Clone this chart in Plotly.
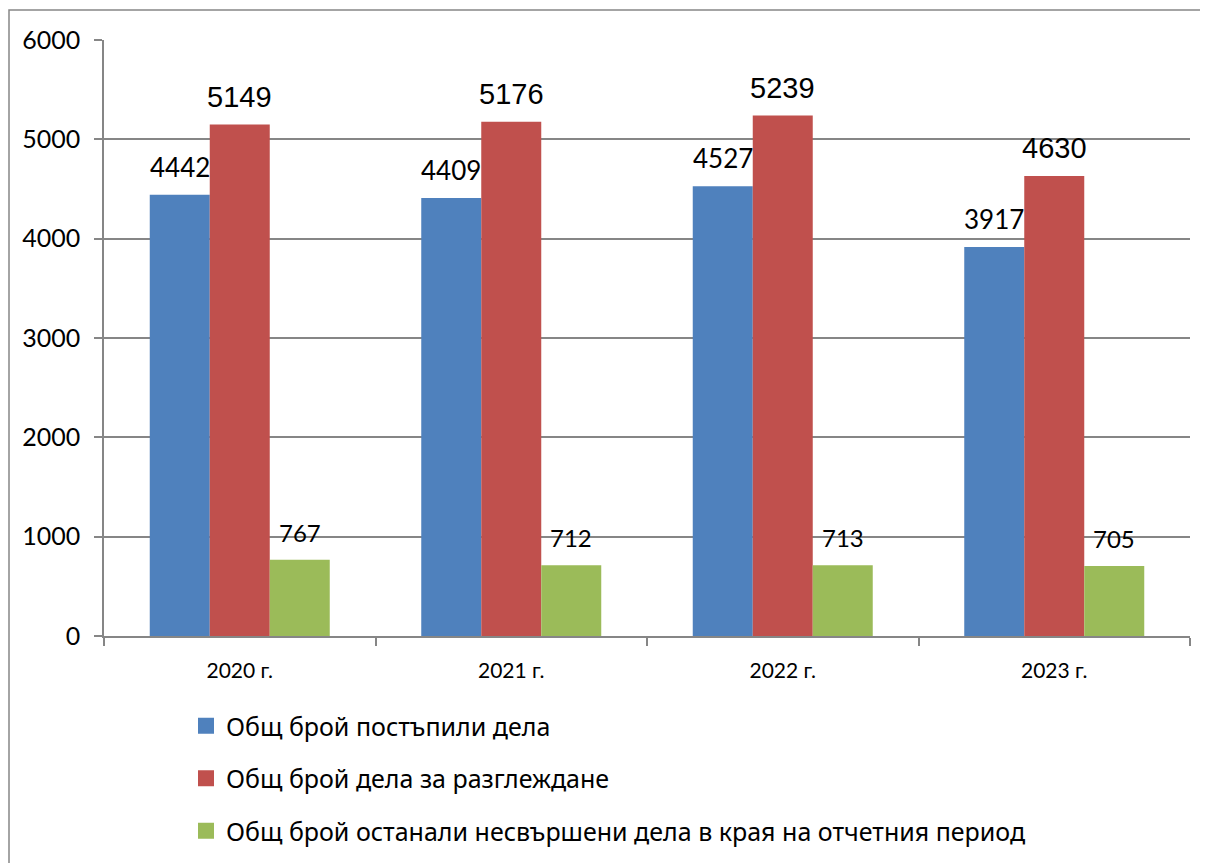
import plotly.graph_objects as go

categories = ["2020 г.", "2021 г.", "2022 г.", "2023 г."]
series_names = [
    "Общ брой постъпили дела",
    "Общ брой дела за разглеждане",
    "Общ брой останали несвършени дела в края на отчетния период",
]
received = [4442, 4409, 4527, 3917]
for_review = [5149, 5176, 5239, 4630]
pending = [767, 712, 713, 705]
series_values = [received, for_review, pending]
colors = ["#4F81BD", "#C0504D", "#9BBB59"]
y_ticks = [0, 1000, 2000, 3000, 4000, 5000, 6000]

W, H = 1208, 863
OFF = 8  # page body margin offset
# plot area in page pixels
PX0, PX1, PY0, PY1 = 104, 1190, 40, 636
L = PX0 - OFF
R = W - (PX1 - OFF)
T = PY0 - OFF
B = H - (PY1 - OFF)
plot_w = PX1 - PX0
plot_h = PY1 - PY0


def px_to_paper_x(px):
    return (px - PX0) / plot_w


def px_to_paper_y(py):
    return (PY1 - py) / plot_h


BARGAP = 0.337
bar_w = (1 - BARGAP) / 3

label_fonts = [
    dict(family="Lato, 'Noto Sans', sans-serif", size=26, color="black"),
    dict(family="'Liberation Sans', Arial, sans-serif", size=29, color="black"),
    dict(family="Lato, 'Noto Sans', sans-serif", size=24, color="black"),
]
label_shift = [10, 10, 11]

fig = go.Figure()
for i, (name, vals, col) in enumerate(zip(series_names, series_values, colors)):
    fig.add_trace(go.Bar(
        x=categories, y=vals, name=name, marker_color=col,
        marker_line_width=0, showlegend=False, hoverinfo="skip",
    ))

# legend entries with larger square swatches
for i, (name, col) in enumerate(zip(series_names, colors)):
    fig.add_trace(go.Scatter(
        x=[None], y=[None], mode="markers", name=name,
        marker=dict(symbol="square", size=16, color=col),
        legendgroup=f"g{i}", showlegend=True,
    ))

annotations = []
for s, vals in enumerate(series_values):
    off = (s - 1) * bar_w
    for c, v in enumerate(vals):
        annotations.append(dict(
            x=c + off, y=v, xref="x", yref="y", text=str(v),
            showarrow=False, yanchor="bottom", xanchor="center",
            yshift=label_shift[s], font=label_fonts[s],
        ))

border_col = "#868686"
fig.update_layout(
    width=W, height=H,
    margin=dict(l=L, r=R, t=T, b=B, autoexpand=False),
    paper_bgcolor="white", plot_bgcolor="white",
    barmode="group", bargap=BARGAP, bargroupgap=0,
    annotations=annotations,
    showlegend=True,
    legend=dict(
        xref="paper", yref="paper",
        x=px_to_paper_x(186), y=px_to_paper_y(703),
        xanchor="left", yanchor="top",
        font=dict(family="'Noto Sans', sans-serif", size=25, color="black"),
        tracegroupgap=17, bgcolor="rgba(0,0,0,0)",
    ),
    shapes=[dict(
        type="rect", xref="paper", yref="paper",
        x0=px_to_paper_x(9), x1=px_to_paper_x(1230),
        y0=px_to_paper_y(900), y1=px_to_paper_y(10),
        line=dict(color=border_col, width=1.5), fillcolor="rgba(0,0,0,0)",
        layer="below",
    )],
    xaxis=dict(
        type="category", showline=True, linecolor=border_col, linewidth=1.5,
        ticks="outside", tickson="boundaries", ticklen=8, tickcolor=border_col,
        tickwidth=1.5, showgrid=False, automargin=False, tickangle=0,
        tickfont=dict(family="Lato, 'Noto Sans', sans-serif", size=21, color="black"),
        ticklabelstandoff=15,
    ),
    yaxis=dict(
        range=[0, 6000], tickvals=y_ticks, showgrid=True, gridcolor=border_col,
        gridwidth=1.5, zeroline=False, showline=True, linecolor=border_col,
        linewidth=1.5, ticks="outside", ticklen=8, tickcolor=border_col,
        tickwidth=1.5, automargin=False,
        tickfont=dict(family="Lato, 'Noto Sans', sans-serif", size=25, color="black"),
        ticklabelstandoff=9,
    ),
)

fig.write_html("out.html")
